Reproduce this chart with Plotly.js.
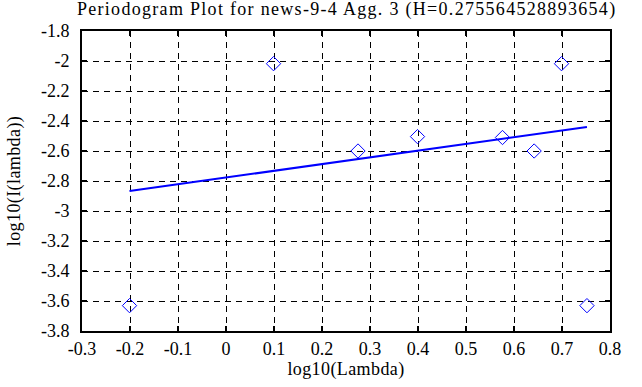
<!DOCTYPE html>
<html>
<head>
<meta charset="utf-8">
<script src="https://cdn.plot.ly/plotly-3.0.1.min.js"></script>
<style>
html,body{margin:0;padding:0;background:#fff;}
#chart{width:642px;height:387px;}
#chart .gtitle{letter-spacing:1.3px;}
#chart .xtitle, #chart .ytitle{letter-spacing:0.4px;}
</style>
</head>
<body>
<div id="chart"></div>
<script>
// Periodogram points (log10 of frequency, log10 of periodogram)
const logLambda = [-0.201, 0.099, 0.275, 0.399, 0.496, 0.576, 0.642, 0.699, 0.752];
const logI = [-3.631, -2.018, -2.600, -2.504, -1.798, -2.510, -2.600, -2.018, -3.631];
// Least-squares fit line end points
const fitX = [-0.201, 0.752];
const fitY = [-2.867, -2.440];
// Tick labels
const xTickVals = [-0.3, -0.2, -0.1, 0, 0.1, 0.2, 0.3, 0.4, 0.5, 0.6, 0.7, 0.8];
const xTickText = ["-0.3", "-0.2", "-0.1", "0", "0.1", "0.2", "0.3", "0.4", "0.5", "0.6", "0.7", "0.8"];
const yTickVals = [-3.8, -3.6, -3.4, -3.2, -3, -2.8, -2.6, -2.4, -2.2, -2, -1.8];
const yTickText = ["-3.8", "-3.6", "-3.4", "-3.2", "-3", "-2.8", "-2.6", "-2.4", "-2.2", "-2", "-1.8"];

const FONT = "Liberation Serif";

const traces = [
  {
    x: fitX, y: fitY, type: "scatter", mode: "lines",
    line: {color: "#0000ff", width: 2},
    hoverinfo: "skip", showlegend: false
  },
  {
    x: logLambda, y: logI, type: "scatter", mode: "markers",
    marker: {symbol: "diamond-open", size: 11, color: "#0000ff", line: {color: "#0000ff", width: 1}},
    showlegend: false, cliponaxis: false
  }
];

const axisCommon = {
  showline: true, linecolor: "#000", linewidth: 2, mirror: "allticks",
  ticks: "inside", ticklen: 5, tickwidth: 2, tickcolor: "#000",
  showgrid: true, gridcolor: "#000", gridwidth: 1, griddash: "6px,5px",
  zeroline: false, tickmode: "array",
  tickfont: {family: FONT, size: 18, color: "#000"}
};

const layout = {
  width: 642, height: 387,
  margin: {l: 82, r: 32, t: 31, b: 56, pad: 0},
  paper_bgcolor: "#fff", plot_bgcolor: "#fff",
  font: {family: FONT, size: 18, color: "#000"},
  title: {text: "Periodogram Plot for news-9-4 Agg. 3 (H=0.275564528893654)",
          font: {family: FONT, size: 18, color: "#000"},
          x: 0.54, xanchor: "center", y: 0.978, yref: "container", yanchor: "middle"},
  xaxis: Object.assign({}, axisCommon, {
    range: [-0.3, 0.8], tickvals: xTickVals, ticktext: xTickText,
    title: {text: "log10(Lambda)", font: {family: FONT, size: 18, color: "#000"}, standoff: 1}
  }),
  yaxis: Object.assign({}, axisCommon, {
    range: [-3.8, -1.8], tickvals: yTickVals, ticktext: yTickText, ticklabelstandoff: 7,
    title: {text: "log10(I(lambda))", font: {family: FONT, size: 18, color: "#000"}, standoff: 16}
  }),
  showlegend: false
};

Plotly.newPlot("chart", traces, layout, {displayModeBar: false, staticPlot: true});
</script>
</body>
</html>
